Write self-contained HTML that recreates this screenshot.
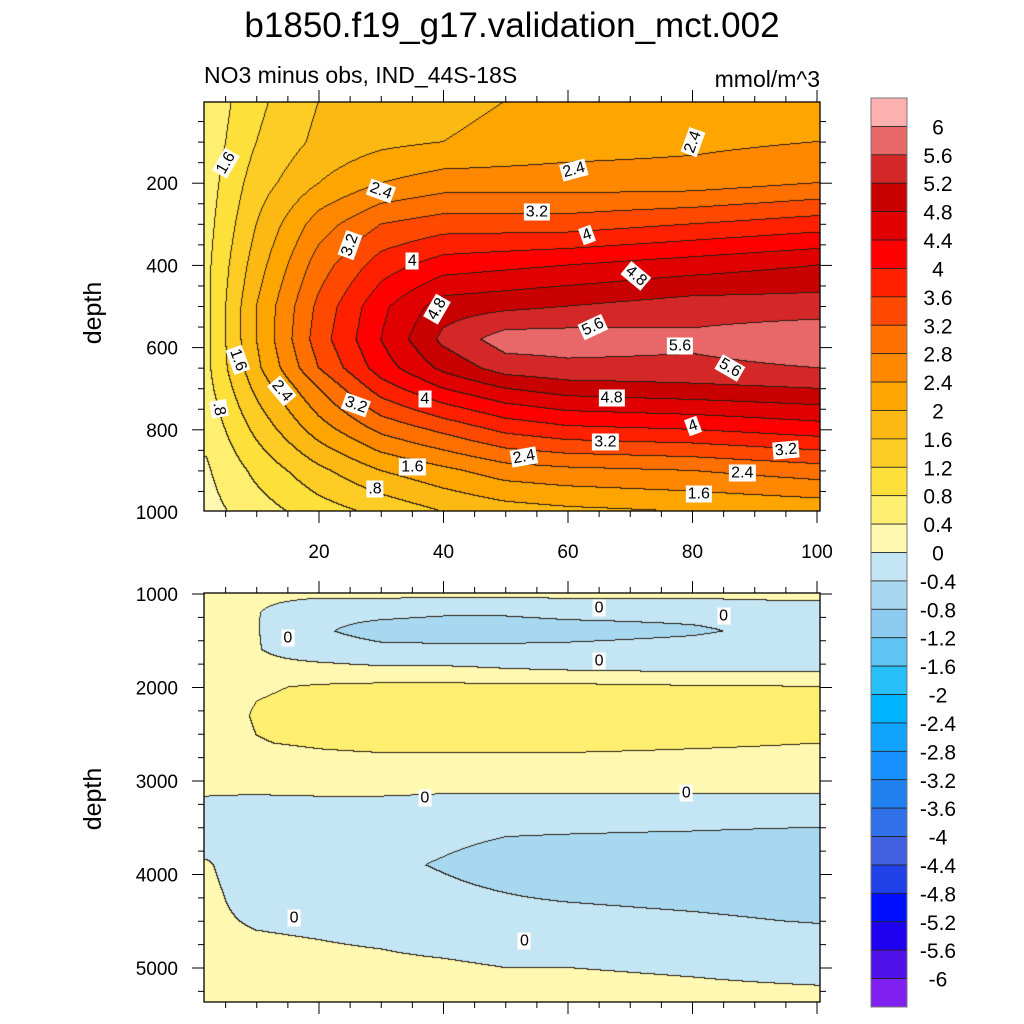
<!DOCTYPE html>
<html><head><meta charset="utf-8">
<style>
body{margin:0;background:#fff;font-family:"Liberation Sans",sans-serif;}
#wrap{position:relative;width:1024px;height:1024px;overflow:hidden;}
canvas{position:absolute;left:0;top:0;}
svg{position:absolute;left:0;top:0;}
.lbl{position:absolute;background:#fff;font-size:16px;line-height:17px;padding:0 2px;transform:translate(-50%,-50%);white-space:nowrap;}
</style></head>
<body>
<div id="wrap">
<canvas id="cv" width="1024" height="1024"></canvas>
<svg id="sv" width="1024" height="1024"></svg>
<div id="labels"></div>
</div>
<script>
// ---- data ----
const xCols = [2,10,20,30,40,50,60,80,100];
const topDepths = [0,100,200,300,400,500,580,650,700,800,900,1000];
const topRows = [
[0.5,1.1,1.6,1.8,1.9,2.0,2.0,2.1,2.2],
[0.55,1.2,1.7,1.9,2.0,2.1,2.2,2.3,2.4],
[0.6,1.4,2.0,2.4,2.6,2.6,2.6,2.6,2.8],
[0.65,1.6,2.6,3.2,3.4,3.4,3.4,3.6,3.8],
[0.7,1.8,3.0,3.8,4.2,4.3,4.4,4.6,4.8],
[0.7,2.0,3.3,4.3,5.0,5.1,5.2,5.4,5.4],
[0.7,2.0,3.4,4.4,5.3,5.8,5.8,5.7,5.9],
[0.7,1.9,3.2,4.2,4.9,5.4,5.5,5.5,5.6],
[0.65,1.7,2.8,3.8,4.4,4.8,5.0,5.1,5.2],
[0.5,1.3,2.2,2.9,3.3,3.7,3.9,4.0,4.2],
[0.35,0.9,1.5,2.0,2.3,2.6,2.7,2.8,3.0],
[0.25,0.6,1.0,1.3,1.6,1.8,1.9,2.0,2.1]];
const botDepths = [1000,1200,1400,1600,1800,2000,2300,2600,2900,3100,3300,3600,3900,4200,4500,4800,5100,5365];
const botRows = [
[0.1,0.1,0.1,0.1,0.1,0.1,0.1,0.1,0.2],
[0.1,0.02,-0.3,-0.3,-0.35,-0.35,-0.3,-0.3,-0.3],
[0.1,0.02,-0.35,-0.55,-0.6,-0.6,-0.55,-0.45,-0.25],
[0.1,0.02,-0.2,-0.3,-0.3,-0.3,-0.3,-0.25,-0.2],
[0.1,0.1,0.1,0.05,0.05,0.0,-0.05,-0.1,-0.1],
[0.1,0.35,0.45,0.5,0.5,0.5,0.5,0.45,0.42],
[0.1,0.45,0.55,0.6,0.6,0.6,0.6,0.6,0.6],
[0.1,0.38,0.45,0.5,0.5,0.5,0.5,0.45,0.4],
[0.1,0.1,0.2,0.2,0.2,0.2,0.2,0.2,0.2],
[0.05,0.05,0.1,0.1,0.05,0.05,0.05,0.05,0.05],
[-0.1,-0.15,-0.2,-0.2,-0.2,-0.2,-0.2,-0.2,-0.2],
[-0.2,-0.3,-0.3,-0.3,-0.35,-0.4,-0.42,-0.45,-0.5],
[0.05,-0.3,-0.3,-0.35,-0.42,-0.5,-0.55,-0.6,-0.6],
[0.1,-0.2,-0.3,-0.3,-0.35,-0.4,-0.45,-0.5,-0.55],
[0.1,-0.05,-0.1,-0.2,-0.25,-0.3,-0.3,-0.35,-0.42],
[0.1,0.1,0.05,0.0,-0.05,-0.1,-0.1,-0.15,-0.2],
[0.1,0.1,0.1,0.1,0.1,0.05,0.05,0.0,-0.05],
[0.1,0.1,0.1,0.1,0.1,0.1,0.1,0.1,0.1]];
const levels = [-6,-5.6,-5.2,-4.8,-4.4,-4,-3.6,-3.2,-2.8,-2.4,-2,-1.6,-1.2,-0.8,-0.4,0,0.4,0.8,1.2,1.6,2,2.4,2.8,3.2,3.6,4,4.4,4.8,5.2,5.6,6];
const levelLabels = ["-6","-5.6","-5.2","-4.8","-4.4","-4","-3.6","-3.2","-2.8","-2.4","-2","-1.6","-1.2","-0.8","-0.4","0","0.4","0.8","1.2","1.6","2","2.4","2.8","3.2","3.6","4","4.4","4.8","5.2","5.6","6"];
const colors = ["#8020f0","#5010e8","#2000f0","#0010ff","#2040e8","#4060e0","#3070e8","#2080f0","#1890ff","#10a4ff","#00b4ff","#28bef8","#5ec4f4","#8ccaf0","#a8d8f0","#c4e6f4","#fff8b0","#feef70","#fde03a","#fdcc25","#fdb913","#ffa500","#ff8800","#ff7000","#ff4800","#ff2000","#ff0000","#e00000","#c80000","#d42828","#e8686a","#fcb0b0"];
const topXTicks = [20,40,60,80,100];
const topYTicks = [200,400,600,800,1000];
const botYTicks = [1000,2000,3000,4000,5000];
const topContourLabels = [["1.6",5,150,-60],["2.4",30,220,20],["2.4",61,168,-15],["2.4",80,100,-70],["3.2",55,270,0],["4",63,325,-20],["3.2",25,350,-70],["4",35,390,0],["4.8",71,425,40],["4.8",39,505,-60],["5.6",64,550,-25],["5.6",78,595,0],["5.6",86,650,30],["1.6",7,630,70],["2.4",14,705,50],["3.2",26,740,20],["4",37,725,0],["4.8",67,722,0],["4",80,790,-20],[".8",4,750,80],["3.2",66,830,0],["2.4",53,865,-10],["3.2",95,850,-5],["1.6",35,890,0],["2.4",88,905,0],[".8",29,945,0],["1.6",81,955,0]];
const botContourLabels = [["0",65,1150],["0",85,1230],["0",15,1470],["0",65,1720],["0",37,3180],["0",79,3130],["0",16,4460],["0",53,4710]];

// ---- axes ----
const X0=194.5, XS=6.225;
function xPix(v){return X0+v*XS;}
function topY(d){return 101+d*0.411;}
function botY(d){return 594+(d-1000)*0.0935;}
const PL=204, PR=820, T1=102, B1=511, T2=593, B2=1002;

function interp(depths,rows,x,d){
  let i=0; while(i<xCols.length-2 && x>xCols[i+1]) i++;
  let j=0; while(j<depths.length-2 && d>depths[j+1]) j++;
  let tx=Math.max(0,Math.min(1,(x-xCols[i])/(xCols[i+1]-xCols[i])));
  let ty=Math.max(0,Math.min(1,(d-depths[j])/(depths[j+1]-depths[j])));
  const a=rows[j][i],b=rows[j][i+1],c=rows[j+1][i],e=rows[j+1][i+1];
  return (a*(1-tx)+b*tx)*(1-ty)+(c*(1-tx)+e*tx)*ty;
}
function levIdx(v){let k=0; while(k<levels.length && v>=levels[k]) k++; return k;}
function hexRGB(h){return [parseInt(h.slice(1,3),16),parseInt(h.slice(3,5),16),parseInt(h.slice(5,7),16)];}
const rgb=colors.map(hexRGB);

const cv=document.getElementById('cv'), ctx=cv.getContext('2d');
function drawField(depths,rows,top,bot,yInv){
  const w=PR-PL, h=bot-top;
  const img=ctx.createImageData(w,h);
  const idx=[];
  for(let py=0;py<h;py++){idx.push([]);for(let px=0;px<w;px++){
    const x=(PL+px+0.5-X0)/XS, d=yInv(top+py+0.5);
    idx[py].push(levIdx(interp(depths,rows,x,d)));
  }}
  for(let py=0;py<h;py++)for(let px=0;px<w;px++){
    const k=idx[py][px]; let c=rgb[k];
    const edge=(px+1<w&&idx[py][px+1]!==k)||(py+1<h&&idx[py+1][px]!==k);
    const o=(py*w+px)*4;
    if(edge){img.data[o]=40;img.data[o+1]=30;img.data[o+2]=20;}
    else{img.data[o]=c[0];img.data[o+1]=c[1];img.data[o+2]=c[2];}
    img.data[o+3]=255;
  }
  ctx.putImageData(img,PL,top);
}
drawField(topDepths,topRows,T1,B1,y=>(y-101)/0.411);
drawField(botDepths,botRows,T2,B2,y=>1000+(y-594)/0.0935);

// ---- svg ----
const NS="http://www.w3.org/2000/svg", sv=document.getElementById('sv');
function mk(tag,attrs,name,text){const e=document.createElementNS(NS,tag);for(const k in attrs)e.setAttribute(k,attrs[k]);


if(text!==undefined)e.textContent=text;sv.appendChild(e);return e;}
function line(x1,y1,x2,y2,name,w){return mk('line',{x1,y1,x2,y2,stroke:'#000','stroke-width':w||1},name);}

mk('text',{x:512,y:37,'text-anchor':'middle','font-size':35},'chart-title','b1850.f19_g17.validation_mct.002');
mk('text',{x:204,y:83,'font-size':23},'subtitle-left','NO3 minus obs, IND_44S-18S');
mk('text',{x:820,y:87,'font-size':23,'text-anchor':'end'},'units-label','mmol/m^3');
mk('text',{x:101,y:313,'font-size':25,'text-anchor':'middle',transform:'rotate(-90 101 313)'},'y-axis-title-top','depth');
mk('text',{x:101,y:799,'font-size':25,'text-anchor':'middle',transform:'rotate(-90 101 799)'},'y-axis-title-bottom','depth');

function frame(top,bot,yfun,yTicks,minorStep,dmin,dmax,xLabels,pre){
  mk('rect',{x:PL,y:top,width:PR-PL,height:bot-top,fill:'none',stroke:'#000','stroke-width':1.3},pre+'-plot-frame');
  for(let v=5;v<=100;v+=5){const x=xPix(v);const maj=v%20===0;const L=maj?12:6;
    line(x,bot,x,bot+L,pre+'-x-tick');line(x,top,x,top-L,pre+'-x-tick-top');}
  for(let d=Math.ceil(dmin/minorStep)*minorStep;d<=dmax;d+=minorStep){const y=yfun(d);if(y<top-0.5||y>bot+0.5)continue;
    const maj=yTicks.includes(d);const L=maj?12:6;line(PL,y,PL-L,y,pre+'-y-tick');line(PR,y,PR+L,y,pre+'-y-tick-right');}
  yTicks.forEach(d=>mk('text',{x:PL-26,y:yfun(d)+7,'font-size':19,'text-anchor':'end'},pre+'-y-tick-label',String(d)));
  if(xLabels) topXTicks.forEach(v=>mk('text',{x:xPix(v),y:bot+47,'font-size':19,'text-anchor':'middle'},pre+'-x-tick-label',String(v)));
}
frame(T1,B1,topY,topYTicks,50,0,1000,true,'top');
frame(T2,B2,botY,botYTicks,250,1000,5364,false,'bottom');

// colorbar
const CBX=871,CBW=36,CBT=98,CBB=1007,n=colors.length,bh=(CBB-CBT)/n;
for(let i=0;i<n;i++){const c=colors[n-1-i];
  mk('rect',{x:CBX,y:CBT+i*bh,width:CBW,height:bh,fill:c,stroke:'#222','stroke-width':0.8},'colorbar-box');}
mk('rect',{x:CBX,y:CBT,width:CBW,height:CBB-CBT,fill:'none',stroke:'#777','stroke-width':1},'colorbar-frame');
for(let i=0;i<levels.length;i++){const y=CBT+(n-1-i)*bh;
  mk('text',{x:938,y:y+8,'font-size':21,'text-anchor':'middle'},'colorbar-label',levelLabels[i]);}

// contour labels
const lb=document.getElementById('labels');
function addLab(t,x,y,rot,name){const s=document.createElement('div');s.className='lbl';s.textContent=t;
  s.style.left=x+'px';s.style.top=y+'px';s.style.transform='translate(-50%,-50%) rotate('+(rot||0)+'deg)';
  
  
  lb.appendChild(s);}
topContourLabels.forEach(a=>addLab(a[0],xPix(a[1]),topY(a[2]),a[3],'top-contour-label'));
botContourLabels.forEach(a=>addLab(a[0],xPix(a[1]),botY(a[2]),0,'bottom-contour-label'));
</script>
</body></html>
